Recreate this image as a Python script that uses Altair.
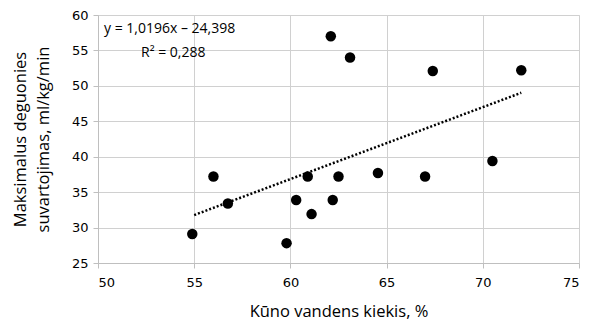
import altair as alt
import pandas as pd

water = [54.9, 56.0, 56.75, 59.8, 60.3, 61.1, 60.9, 62.2, 62.5, 64.55, 67.0, 70.5, 62.1, 63.1, 67.4, 72.0]
vo2 = [29.1, 37.2, 33.4, 27.8, 33.9, 31.9, 37.2, 33.9, 37.2, 37.7, 37.2, 39.4, 57.0, 54.0, 52.1, 52.2]
eq_lines = ["y = 1,0196x – 24,398", "R² = 0,288"]
x_ticks = [50, 55, 60, 65, 70, 75]
y_ticks = [25, 30, 35, 40, 45, 50, 55, 60]

df = pd.DataFrame({"x": water, "y": vo2})

x_scale = alt.Scale(domain=[50, 75], nice=False, zero=False)
y_scale = alt.Scale(domain=[25, 60], nice=False, zero=False)

x_axis = alt.Axis(values=x_ticks, title="Kūno vandens kiekis, %",
                  labelFont="DejaVu Sans", labelFontSize=13, labelColor="#000", labelOverlap=False,
                  titleFont="Open Sans", titleFontSize=16.5, titleFontWeight="normal", titleColor="#000",
                  titlePadding=14, labelPadding=8, tickSize=5, tickColor="#bfbfbf",
                  domainColor="#bfbfbf", grid=True, gridColor="#d0d0d0", gridOpacity=1)
y_axis = alt.Axis(values=y_ticks,
                  title=["Maksimalus deguonies", "suvartojimas, ml/kg/min"],
                  labelFont="DejaVu Sans", labelFontSize=13, labelColor="#000", labelOverlap=False,
                  titleFont="Open Sans", titleFontSize=16.5, titleFontWeight="normal", titleColor="#000",
                  titleLineHeight=23, titlePadding=20, labelPadding=5, tickSize=5, tickColor="#bfbfbf",
                  domainColor="#bfbfbf", grid=True, gridColor="#d0d0d0", gridOpacity=1)

points = alt.Chart(df).mark_circle(color="black", opacity=1, size=110).encode(
    x=alt.X("x:Q", scale=x_scale, axis=x_axis),
    y=alt.Y("y:Q", scale=y_scale, axis=y_axis),
)

trend = alt.Chart(df).transform_regression("x", "y", extent=[55, 72]).mark_line(
    color="black", strokeWidth=2.5, strokeDash=[2, 2]
).encode(x=alt.X("x:Q", scale=x_scale, axis=x_axis), y=alt.Y("y:Q", scale=y_scale, axis=y_axis))

t1 = alt.Chart(pd.DataFrame({"t": [eq_lines[0]]})).mark_text(
    align="left", baseline="middle", font="Open Sans", fontSize=14, color="#000"
).encode(text="t:N", x=alt.value(6), y=alt.value(14))
t2 = alt.Chart(pd.DataFrame({"t": [eq_lines[1]]})).mark_text(
    align="left", baseline="middle", font="Open Sans", fontSize=14, color="#000"
).encode(text="t:N", x=alt.value(43), y=alt.value(38))

chart = (points + trend + t1 + t2).properties(
    width=481, height=248,
    autosize=alt.AutoSizeParams(type="none"),
    padding={"left": 90, "top": 7, "right": 14, "bottom": 60},
).configure_view(stroke=None).configure(background="white")

chart.save("out.html", embed_options={"renderer": "svg", "actions": False})
